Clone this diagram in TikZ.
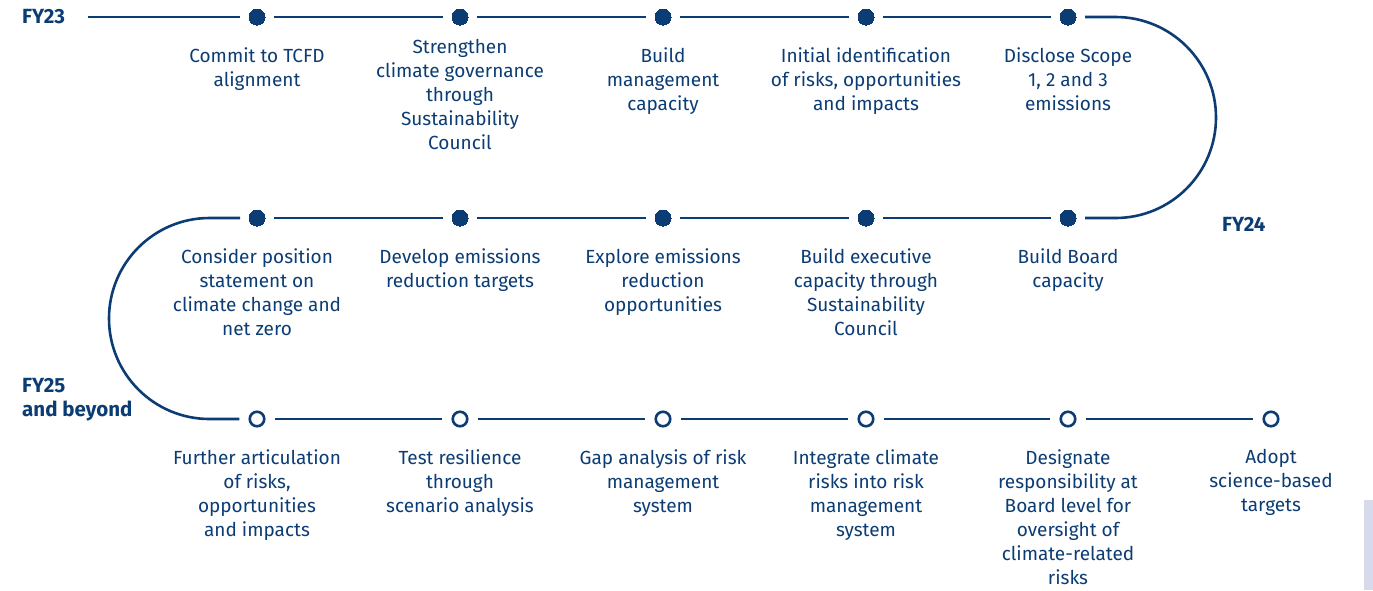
\documentclass[tikz,border=0pt]{standalone}
\usepackage{fontspec}
\setmainfont{Fira Sans}
\definecolor{navy}{HTML}{0B3C73}
\definecolor{lav}{HTML}{D6DAEB}
\begin{document}
\begin{tikzpicture}[x=1pt,y=-1pt,
  dot/.style={circle,fill=navy,draw=navy,line width=0pt,minimum size=16pt,inner sep=0pt},
  odot/.style={circle,fill=white,draw=navy,line width=2.6pt,minimum size=14.5pt,inner sep=0pt},
  lbl/.style={anchor=north,align=center,text=navy,font=\fontsize{19}{24}\selectfont,inner sep=0pt},
  yr/.style={anchor=west,text=navy,font=\fontsize{20.5}{24}\selectfont\bfseries,inner sep=0pt,align=left},
  conn/.style={draw=navy,line width=2.6pt,shorten <=9pt,shorten >=9pt}]
\useasboundingbox (0,0) rectangle (1373,590);
\fill[lav] (1364,500) rectangle (1373,590);
% dots
\foreach \i/\x in {1/257,2/460,3/663,4/866,5/1068} {\node[dot] (a\i) at (\x,17) {};}
\foreach \i/\x in {1/257,2/460,3/663,4/866,5/1068} {\node[dot] (b\i) at (\x,218) {};}
\foreach \i/\x in {1/257,2/460,3/663,4/866,5/1068,6/1271} {\node[odot] (c\i) at (\x,419) {};}
\coordinate (s0) at (88,17);
\coordinate (r1) at (1115.5,17);
\coordinate (l1) at (209.5,218);
\draw[draw=navy,line width=2.6pt,shorten >=9pt] (s0) -- (a1);
\draw[conn] (a1) -- (a2);
\draw[conn] (a2) -- (a3);
\draw[conn] (a3) -- (a4);
\draw[conn] (a4) -- (a5);
\draw[conn] (a5) -- (r1) arc[start angle=-90,end angle=90,radius=100.5] -- (b5);
\draw[conn] (b5) -- (b4);
\draw[conn] (b4) -- (b3);
\draw[conn] (b3) -- (b2);
\draw[conn] (b2) -- (b1);
\draw[conn] (b1) -- (l1) arc[start angle=-90,end angle=-270,radius=100.5] -- (c1);
\draw[conn] (c1) -- (c2);
\draw[conn] (c2) -- (c3);
\draw[conn] (c3) -- (c4);
\draw[conn] (c4) -- (c5);
\draw[conn] (c5) -- (c6);
% year labels
\node[yr] (fy23) at (22,17) {FY23};
\node[yr] (fy24) at (1222,224) {FY24};
\node[yr,anchor=north west] (fy25) at (22,378) {FY25\\and beyond};
% labels row 1
\node[lbl] (ta1) at (257,47) {Commit to TCFD\\alignment};
\node[lbl] (ta2) at (460,39) {Strengthen\\climate governance\\through\\Sustainability\\Council};
\node[lbl] (ta3) at (663,47) {Build\\management\\capacity};
\node[lbl] (ta4) at (866,47) {Initial identification\\of risks, opportunities\\and impacts};
\node[lbl] (ta5) at (1068,47) {Disclose Scope\\1, 2 and 3\\emissions};
% row 2
\node[lbl] (tb1) at (257,248) {Consider position\\statement on\\climate change and\\net zero};
\node[lbl] (tb2) at (460,248) {Develop emissions\\reduction targets};
\node[lbl] (tb3) at (663,248) {Explore emissions\\reduction\\opportunities};
\node[lbl] (tb4) at (866,248) {Build executive\\capacity through\\Sustainability\\Council};
\node[lbl] (tb5) at (1068,248) {Build Board\\capacity};
% row 3
\node[lbl] (tc1) at (257,449) {Further articulation\\of risks,\\opportunities\\and impacts};
\node[lbl] (tc2) at (460,449) {Test resilience\\through\\scenario analysis};
\node[lbl] (tc3) at (663,449) {Gap analysis of risk\\management\\system};
\node[lbl] (tc4) at (866,449) {Integrate climate\\risks into risk\\management\\system};
\node[lbl] (tc5) at (1068,449) {Designate\\responsibility at\\Board level for\\oversight of\\climate-related\\risks};
\node[lbl] (tc6) at (1271,449) {Adopt\\science-based\\targets};
\end{tikzpicture}
\end{document}
